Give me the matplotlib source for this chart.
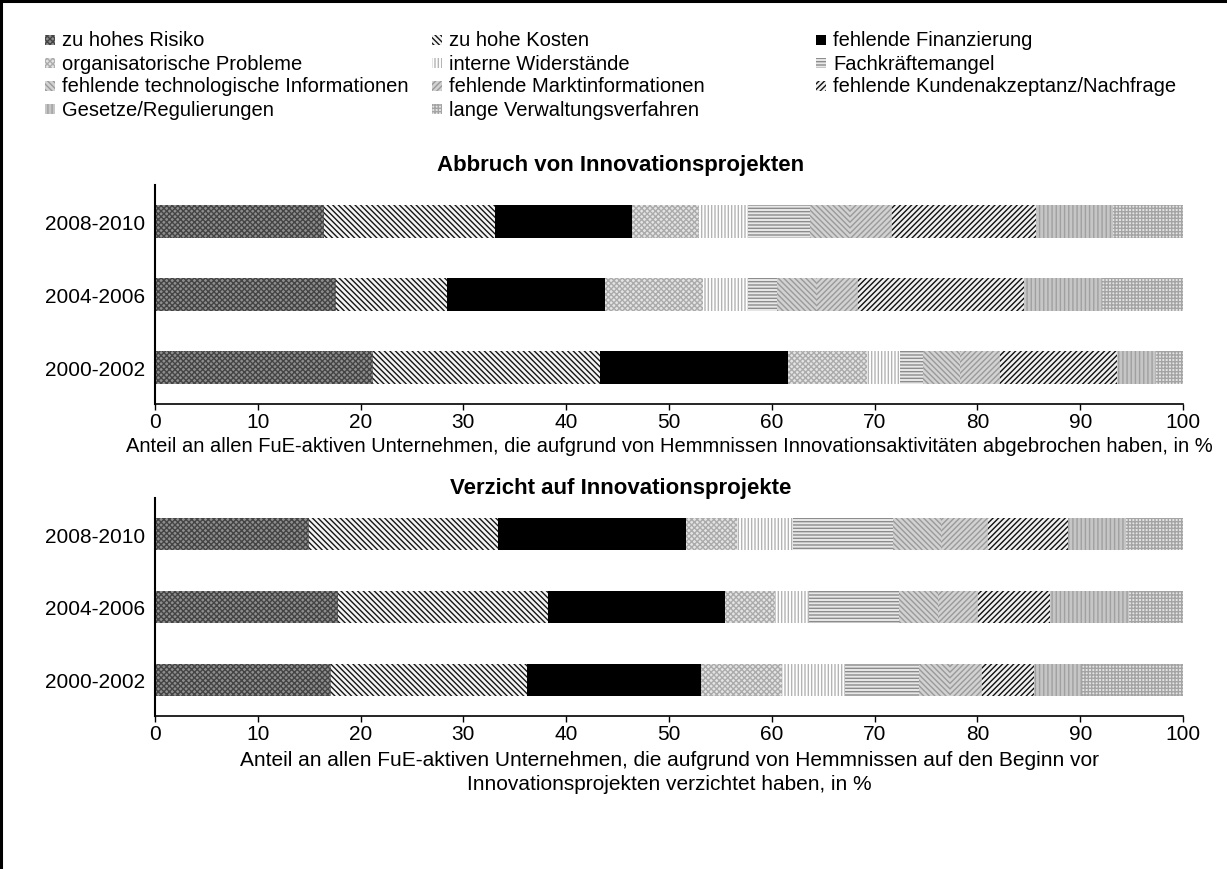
import matplotlib
matplotlib.use("Agg")
import matplotlib.pyplot as plt
from matplotlib.patches import Rectangle
from matplotlib.lines import Line2D
import numpy as np

plt.rcParams['font.family'] = ['Liberation Sans', 'DejaVu Sans']
plt.rcParams['hatch.linewidth'] = 1.0

# Kategorien (Hemmnisse) und Zeitraeume
hemmnisse = ["zu hohes Risiko", "zu hohe Kosten", "fehlende Finanzierung",
             "organisatorische Probleme", "interne Widerstände", "Fachkräftemangel",
             "fehlende technologische Informationen", "fehlende Marktinformationen",
             "fehlende Kundenakzeptanz/Nachfrage", "Gesetze/Regulierungen",
             "lange Verwaltungsverfahren"]
zeitraeume = ["2000-2002", "2004-2006", "2008-2010"]

# Abbruch von Innovationsprojekten, Anteile in % (je Zeitraum)
abbruch_2000 = [21.2, 22.1, 18.3, 7.7, 3.2, 2.2, 3.6, 3.9, 11.4, 3.8, 2.6]
abbruch_2004 = [17.6, 10.8, 15.4, 9.5, 4.4, 2.8, 3.9, 4.0, 16.1, 7.6, 7.9]
abbruch_2008 = [16.4, 16.7, 13.3, 6.5, 4.8, 6.0, 3.9, 4.1, 14.0, 7.5, 6.8]

# Verzicht auf Innovationsprojekte, Anteile in %
verzicht_2000 = [17.1, 19.1, 16.9, 7.9, 6.1, 7.2, 3.0, 3.1, 5.1, 4.7, 9.8]
verzicht_2004 = [17.8, 20.4, 17.2, 4.9, 3.3, 8.8, 3.8, 3.9, 7.0, 7.6, 5.3]
verzicht_2008 = [15.0, 18.4, 18.3, 4.9, 5.5, 9.7, 4.7, 4.5, 7.8, 5.7, 5.5]

x_ticks = [0, 10, 20, 30, 40, 50, 60, 70, 80, 90, 100]

# Fuellung je Hemmnis: (Flaechenfarbe, Schraffurfarbe, Schraffur)
stile = [("#8e8e8e", "#444444", "xxxxxx"),
         ("#f4f4f4", "#151515", "\\\\\\\\\\\\"),
         ("black", "black", ""),
         ("#e4e4e4", "#ababab", "xxxxxx"),
         ("white", "#b4b4b4", "|||||"),
         ("#e8e8e8", "#8c8c8c", "-----"),
         ("#d2d2d2", "#9a9a9a", "\\\\\\\\\\\\"),
         ("#d2d2d2", "#9a9a9a", "//////"),
         ("#f0f0f0", "#101010", "//////"),
         ("#c6c6c6", "#a0a0a0", "||||"),
         ("#e4e4e4", "#a4a4a4", "+++++")]

W, H = 1227, 870
fig = plt.figure(figsize=(W / 100, H / 100), dpi=100)

# Rahmen oben und links
fig.add_artist(Line2D([0, 1], [1 - 1.5 / H, 1 - 1.5 / H], transform=fig.transFigure,
                      color="black", linewidth=2.2))
fig.add_artist(Line2D([1.2 / W, 1.2 / W], [0, 1], transform=fig.transFigure,
                      color="black", linewidth=2.2))


def zeichne(ax, reihen):
    daten = np.array(reihen)
    links = np.zeros(len(zeitraeume))
    y = np.arange(len(zeitraeume))
    for i in range(len(hemmnisse)):
        fc, hc, ht = stile[i]
        ax.barh(y, daten[:, i], left=links, height=0.44, color=fc,
                edgecolor=hc, hatch=ht, linewidth=0)
        links += daten[:, i]
    ax.set_xlim(0, 100)
    ax.set_ylim(-0.5, 2.5)
    ax.set_xticks(x_ticks)
    ax.set_yticks(y)
    ax.set_yticklabels(zeitraeume)
    ax.spines["top"].set_visible(False)
    ax.spines["right"].set_visible(False)
    ax.spines["left"].set_linewidth(1.5)
    ax.spines["bottom"].set_linewidth(1.2)
    ax.tick_params(axis="y", length=0, pad=7, labelsize=15)
    ax.tick_params(axis="x", length=4, width=1, pad=2, labelsize=15)


ax1 = fig.add_axes([155 / W, (H - 405) / H, 1028 / W, 219 / H])
zeichne(ax1, [abbruch_2000, abbruch_2004, abbruch_2008])
ax1.set_xlabel("Anteil an allen FuE-aktiven Unternehmen, die aufgrund von Hemmnissen "
               "Innovationsaktivitäten abgebrochen haben, in %", fontsize=14.5, labelpad=3)

ax2 = fig.add_axes([155 / W, (H - 717) / H, 1028 / W, 218 / H])
zeichne(ax2, [verzicht_2000, verzicht_2004, verzicht_2008])
ax2.set_xlabel("Anteil an allen FuE-aktiven Unternehmen, die aufgrund von Hemmnissen auf den Beginn vor\n"
               "Innovationsprojekten verzichtet haben, in %", fontsize=15, labelpad=5,
               linespacing=1.3)

fig.text(621 / W, 1 - 166 / H, "Abbruch von Innovationsprojekten", ha="center",
         va="center", fontsize=16, fontweight="bold")
fig.text(621 / W, 1 - 489 / H, "Verzicht auf Innovationsprojekte", ha="center",
         va="center", fontsize=16, fontweight="bold")

# Legende: 3 Spalten, zeilenweise
spalten_x = [45, 432, 816]
for i, name in enumerate(hemmnisse):
    zeile, spalte = divmod(i, 3)
    x = spalten_x[spalte]
    y = 41 + 23 * zeile
    fc, hc, ht = stile[i]
    fig.patches.append(Rectangle((x / W, 1 - (y + 5) / H), 10 / W, 10 / H,
                                 transform=fig.transFigure, facecolor=fc,
                                 edgecolor=hc, hatch=ht, linewidth=0))
    fig.text((x + 17) / W, 1 - y / H, name, ha="left", va="center", fontsize=14.5)

fig.savefig("out.png", dpi=100)
